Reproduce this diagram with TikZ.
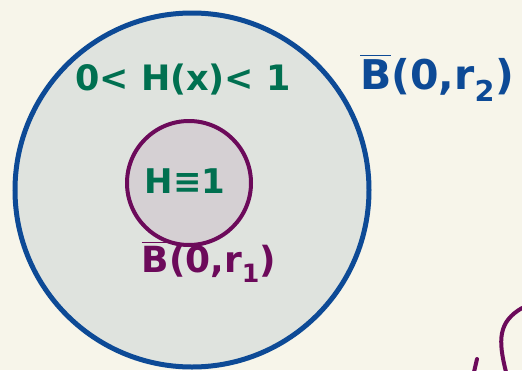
\documentclass[tikz,border=0pt]{standalone}
\usepackage{amsmath}
\usepackage{fontspec}
\setmainfont{DejaVu Sans}
\usepackage{tikz}
\definecolor{ballpaper}{RGB}{247,245,234}
\definecolor{ballblue}{RGB}{13,74,150}
\definecolor{ballbluefill}{RGB}{223,227,222}
\definecolor{ballpurple}{RGB}{108,10,90}
\definecolor{ballpurplefill}{RGB}{213,208,211}
\definecolor{ballgreen}{RGB}{0,112,80}
\newcommand{\cball}[1]{\(\overline{\text{B}}\)(0,r\textsubscript{#1})}

\begin{document}
\begin{tikzpicture}[x=1pt,y=-1pt,line cap=round,
  ballbox/.style={circle,inner sep=0pt,draw},
  hand/.style={inner sep=0pt}]
\useasboundingbox (0,0) rectangle (522,370);
\fill[ballpaper] (0,0) rectangle (522,370);
% ---------------- the two balls ----------------
\node[ballbox,minimum size=354pt,line width=5pt,draw=ballblue,fill=ballbluefill] (outer) at (192,190) {};
\node[ballbox,minimum size=124pt,line width=4pt,draw=ballpurple,fill=ballpurplefill] (inner) at (189,183) {};
% ---------------- labels ----------------
\node[hand,ballgreen,font=\fontsize{35}{40}\bfseries] (mid) at (183,80) {0< H(x)< 1};
\node[hand,ballgreen,font=\fontsize{34}{40}\bfseries] (one) at (185,181) {H≡1};
\node[hand,ballpurple,font=\fontsize{36}{40}\bfseries] (rone) at (209,262) {\cball{1}};
\node[hand,ballblue,font=\fontsize{41}{46}\bfseries] (rtwo) at (437,78) {\cball{2}};
% ---------------- stray strokes, bottom right ----------------
\draw[ballpurple,line width=4pt] (522,308) .. controls (498,322) and (498,340) .. (506,372);
\draw[ballpurple,line width=4pt] (477,359) -- (474,372);
\end{tikzpicture}
\end{document}
